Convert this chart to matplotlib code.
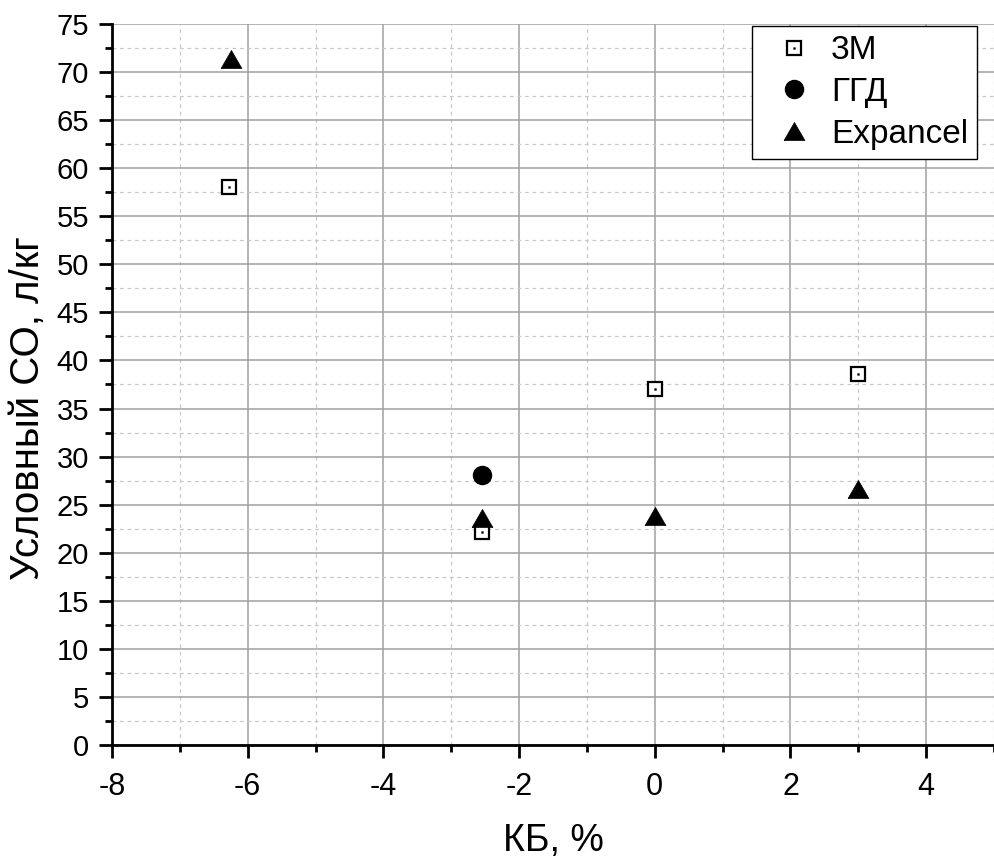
import numpy as np
import matplotlib
matplotlib.use('Agg')
import matplotlib.pyplot as plt
from matplotlib.ticker import MultipleLocator
from matplotlib.legend_handler import HandlerTuple

plt.rcParams['font.family'] = ['Liberation Sans', 'DejaVu Sans']
plt.rcParams['axes.unicode_minus'] = False

# КБ, % vs условный СО, л/кг
x_3m = [-6.27, -2.54, 0.0, 3.0]
y_3m = [58.0, 22.2, 37.0, 38.6]

x_ggd = [-2.54]
y_ggd = [28.1]

x_exp = [-6.25, -2.54, 0.0, 3.0]
y_exp = [71.4, 23.6, 23.8, 26.6]

# equilateral triangle, like the Origin one
tri = [(-1, -0.866), (1, -0.866), (0, 0.866), (-1, -0.866)]

fig = plt.figure(figsize=(9.94, 8.57), dpi=100)
ax = fig.add_axes([0.1127, 0.1307, 0.8873, 0.8413])

sq, = ax.plot(x_3m, y_3m, ls='none', marker='s', ms=9.5, mfc='white',
              mec='black', mew=1.6, zorder=3)
dot, = ax.plot(x_3m, y_3m, ls='none', marker='s', ms=1.3, mfc='black',
               mec='black', mew=0.3, zorder=4)
circ, = ax.plot(x_ggd, y_ggd, ls='none', marker='o', ms=13, mfc='black',
                mec='black', zorder=3)
trg, = ax.plot(x_exp, y_exp, ls='none', marker=tri, ms=15, mfc='black',
               mec='black', mew=0.5, zorder=3)

ax.set_xlim(-8, 5)
ax.set_ylim(0, 75)
ax.xaxis.set_major_locator(MultipleLocator(2))
ax.xaxis.set_minor_locator(MultipleLocator(1))
ax.yaxis.set_major_locator(MultipleLocator(5))
ax.yaxis.set_minor_locator(MultipleLocator(2.5))

ax.grid(which='major', color='#a0a0a0', lw=1.1, ls='-')
ax.grid(which='minor', color='#c8c8c8', lw=0.9, ls=(0, (3, 3)))
ax.set_axisbelow(True)

for s in ['top', 'right']:
    ax.spines[s].set_visible(False)
for s in ['left', 'bottom']:
    ax.spines[s].set_linewidth(2.0)

ax.tick_params(axis='both', which='major', direction='out', length=9.5,
               width=2.0)
ax.tick_params(axis='both', which='minor', direction='out', length=5,
               width=2.0)
ax.tick_params(axis='y', which='major', pad=7, labelsize=21)
ax.tick_params(axis='x', which='major', pad=10, labelsize=22)

ax.set_xlabel('КБ, %', fontsize=27, labelpad=15)
ax.set_ylabel('Условный СО, л/кг', fontsize=29)
ax.yaxis.set_label_coords(-0.074, 0.468)

leg = ax.legend([(sq, dot), circ, trg], ['3M', 'ГГД', 'Expancel'],
                handler_map={tuple: HandlerTuple(ndivide=1, pad=0)},
                loc='upper right', bbox_to_anchor=(0.981, 0.997),
                borderaxespad=0, fontsize=24, fancybox=False, framealpha=1,
                edgecolor='black', handlelength=1.95, handletextpad=0.12,
                labelspacing=0.32, borderpad=0.28)
leg.get_frame().set_linewidth(1.0)

fig.savefig('out.png', dpi=100)
